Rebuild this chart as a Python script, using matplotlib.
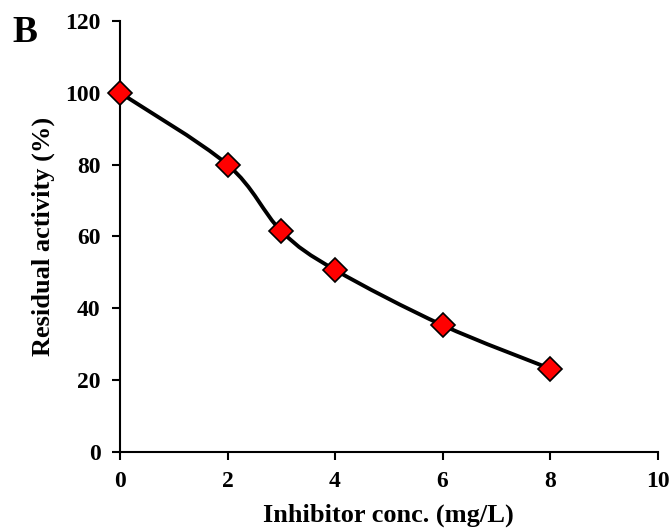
import matplotlib
matplotlib.use("Agg")
import matplotlib.pyplot as plt
from matplotlib.path import Path
from matplotlib.patches import PathPatch

plt.rcParams['font.family'] = ['Liberation Serif', 'DejaVu Serif']
plt.rcParams['font.weight'] = 'bold'

conc = [0, 2, 3, 4, 6, 8]
activity = [100, 80, 61.5, 50.7, 35.3, 23.2]
x_ticks = [0, 2, 4, 6, 8, 10]
y_ticks = [0, 20, 40, 60, 80, 100, 120]


def smooth_path(xs, ys):
    # Excel-like smoothed line: cubic Bezier through each point
    pts = list(zip(xs, ys))
    n = len(pts)
    verts = [pts[0]]
    codes = [Path.MOVETO]
    for i in range(n - 1):
        p0 = pts[i - 1] if i > 0 else pts[i]
        p1 = pts[i]
        p2 = pts[i + 1]
        p3 = pts[i + 2] if i + 2 < n else pts[i + 1]
        c1 = (p1[0] + (p2[0] - p0[0]) / 6, p1[1] + (p2[1] - p0[1]) / 6)
        c2 = (p2[0] - (p3[0] - p1[0]) / 6, p2[1] - (p3[1] - p1[1]) / 6)
        verts += [c1, c2, p2]
        codes += [Path.CURVE4] * 3
    return Path(verts, codes)


fig = plt.figure(figsize=(6.72, 5.31), dpi=100)
ax = fig.add_axes([0.1786, 0.1488, 0.80, 0.8117])

ax.add_patch(PathPatch(smooth_path(conc, activity), facecolor='none',
                       edgecolor='black', lw=2.8, zorder=2))
ax.plot(conc, activity, linestyle='none', marker='D', markersize=12,
        markerfacecolor='#ff0000', markeredgecolor='black', markeredgewidth=1.2,
        zorder=3, clip_on=False)

ax.set_xlim(0, 10)
ax.set_ylim(0, 120)
ax.set_xticks(x_ticks)
ax.set_yticks(y_ticks)
ax.tick_params(direction='out', length=6, width=1.5, labelsize=17)
ax.tick_params(axis='x', pad=8)
ax.tick_params(axis='y', pad=8)
for s in ['top', 'right']:
    ax.spines[s].set_visible(False)
for s in ['left', 'bottom']:
    ax.spines[s].set_linewidth(1.5)

ax.set_xlabel('Inhibitor conc. (mg/L)', fontsize=19, fontweight='bold', labelpad=8)
ax.set_ylabel('Residual activity (%)', fontsize=19, fontweight='bold', labelpad=7)
fig.text(0.018, 0.92, 'B', fontsize=27, fontweight='bold')

fig.savefig('out.png', dpi=100)
